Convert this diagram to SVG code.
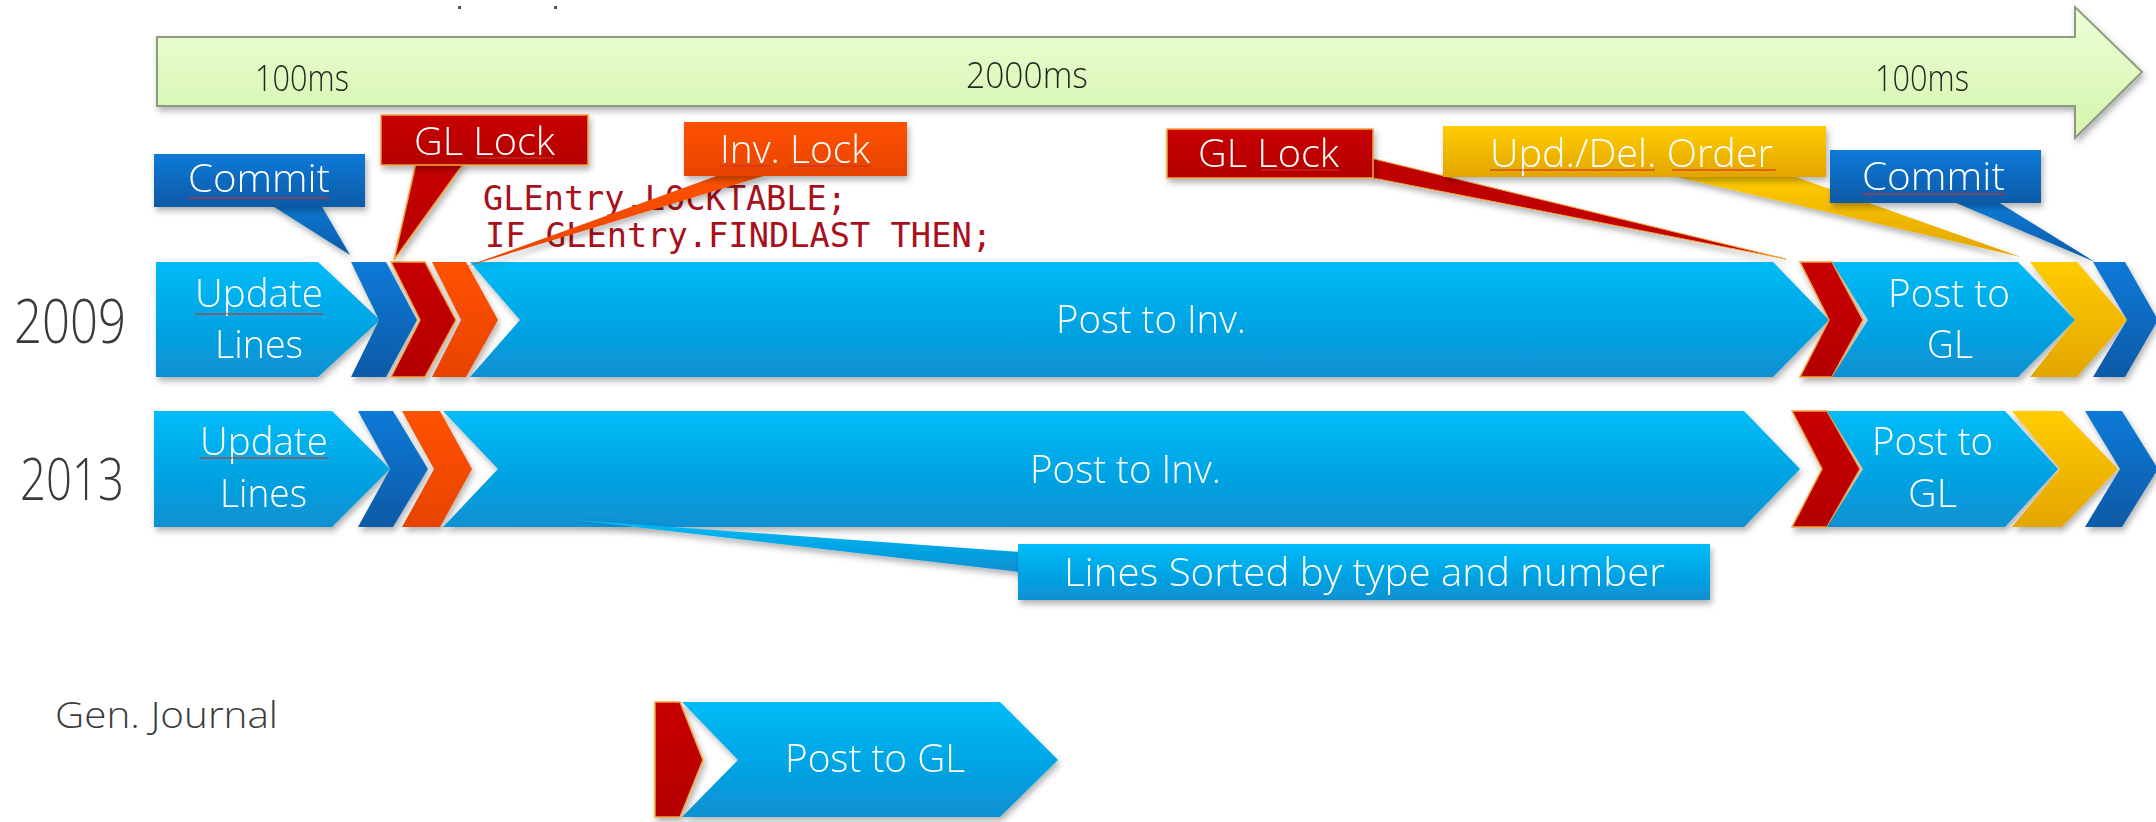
<svg xmlns="http://www.w3.org/2000/svg" width="2156" height="822" viewBox="0 0 2156 822">
<defs>
<linearGradient id="gBlue" x1="0" y1="0" x2="0" y2="1"><stop offset="0" stop-color="#02bcf8"/><stop offset="1" stop-color="#0890d2"/></linearGradient>
<linearGradient id="gDark" x1="0" y1="0" x2="0" y2="1"><stop offset="0" stop-color="#0a7ad8"/><stop offset="1" stop-color="#0a5aa6"/></linearGradient>
<linearGradient id="gRed" x1="0" y1="0" x2="0" y2="1"><stop offset="0" stop-color="#c80000"/><stop offset="1" stop-color="#b40000"/></linearGradient>
<linearGradient id="gOrange" x1="0" y1="0" x2="0" y2="1"><stop offset="0" stop-color="#ff5200"/><stop offset="1" stop-color="#e84300"/></linearGradient>
<linearGradient id="gGold" x1="0" y1="0" x2="0" y2="1"><stop offset="0" stop-color="#ffcc00"/><stop offset="1" stop-color="#e3a500"/></linearGradient>
<linearGradient id="gGreen" x1="0" y1="0" x2="0" y2="1"><stop offset="0" stop-color="#ecffd6"/><stop offset="1" stop-color="#d4f4ad"/></linearGradient>
<filter id="sh" x="-10%" y="-20%" width="120%" height="150%"><feDropShadow dx="2" dy="4" stdDeviation="3" flood-color="#000" flood-opacity="0.3"/></filter>
<pattern id="wavy" width="6" height="4" patternUnits="userSpaceOnUse"><path d="M0,3 L1.5,1 L3,3 L4.5,1 L6,3" fill="none" stroke="#c8302a" stroke-width="1"/></pattern>
<style>
.t{font-family:"Open Sans","Noto Sans","Liberation Sans",sans-serif;font-weight:300;fill:#fff;font-size:39px}
.d{font-family:"Open Sans","Noto Sans","Liberation Sans",sans-serif;font-weight:300;fill:#1e2a1e;font-size:37px}
.g{font-family:"Open Sans","Noto Sans","Liberation Sans",sans-serif;font-weight:300;fill:#3a3a3a}
.code{font-family:"DejaVu Sans Mono","Liberation Mono",monospace;font-size:33px;fill:#a8101c}
.blue{fill:url(#gBlue)}
.dark{fill:url(#gDark)}
.red{fill:url(#gRed);stroke:#f2a33a;stroke-width:1.5}
.orange{fill:url(#gOrange)}
.gold{fill:url(#gGold)}
.sq{fill:url(#wavy)}
</style>
</defs>
<rect width="2156" height="822" fill="#fff"/>
<rect x="458" y="6" width="3" height="3" fill="#555"/>
<rect x="554" y="6" width="3" height="3" fill="#555"/>

<g id="timeline" filter="url(#sh)">
<polygon points="157,37 2075,37 2075,7 2142,72 2075,138 2075,106 157,106" fill="url(#gGreen)" stroke="#8c9c80" stroke-width="2"/>
<text class="d" x="255" y="91" textLength="94" lengthAdjust="spacingAndGlyphs">100ms</text>
<text class="d" x="966" y="88" textLength="122" lengthAdjust="spacingAndGlyphs">2000ms</text>
<text class="d" x="1875" y="91" textLength="94" lengthAdjust="spacingAndGlyphs">100ms</text>
</g>

<g id="label-2009"><text class="g" x="14" y="343" font-size="60" textLength="112" lengthAdjust="spacingAndGlyphs">2009</text></g>
<g id="label-2013"><text class="g" x="20" y="500" font-size="58" textLength="104" lengthAdjust="spacingAndGlyphs">2013</text></g>
<g id="label-genjournal"><text class="g" x="55" y="728" font-size="37" textLength="223" lengthAdjust="spacingAndGlyphs">Gen. Journal</text></g>

<g id="row2009" filter="url(#sh)">
<g id="r2009-update"><polygon class="blue" points="156,262 318,262 380,320 318,377 156,377"/>
<text class="t" x="195" y="307" textLength="128" lengthAdjust="spacingAndGlyphs">Update</text>
<rect class="sq" x="195" y="312" width="128" height="4"/>
<text class="t" x="215" y="358" textLength="88" lengthAdjust="spacingAndGlyphs">Lines</text></g>
<polygon id="r2009-commit1" class="dark" points="351,262 386,262 417,320 386,377 351,377 379,320"/>
<polygon id="r2009-gllock1" class="red" points="391,262 425,262 456,320 425,377 391,377 420,320"/>
<polygon id="r2009-invlock" class="orange" points="432,262 466,262 498,320 466,377 432,377 461,320"/>
<g id="r2009-postinv"><polygon class="blue" points="470,262 1773,262 1829,320 1773,377 470,377 520,320"/>
<text class="t" x="1056" y="333" textLength="190" lengthAdjust="spacingAndGlyphs">Post to Inv.</text></g>
<polygon id="r2009-gllock2" class="red" points="1800,262 1832,262 1863,320 1832,377 1800,377 1829,320"/>
<g id="r2009-postgl"><polygon class="blue" points="1832,262 2018,262 2075,320 2018,377 1832,377 1868,320"/>
<text class="t" x="1888" y="307" textLength="122" lengthAdjust="spacingAndGlyphs">Post to</text>
<text class="t" x="1927" y="358" textLength="46" lengthAdjust="spacingAndGlyphs">GL</text></g>
<polygon id="r2009-updorder" class="gold" points="2030,262 2077,262 2127,320 2077,377 2030,377 2075,320"/>
<polygon id="r2009-commit2" class="dark" points="2093,262 2125,262 2158,320 2125,377 2093,377 2127,320"/>
</g>

<g id="row2013" filter="url(#sh)">
<g id="r2013-update"><polygon class="blue" points="154,411 332,411 390,469 332,527 154,527"/>
<text class="t" x="200" y="455" textLength="128" lengthAdjust="spacingAndGlyphs">Update</text>
<rect class="sq" x="200" y="456" width="128" height="4"/>
<text class="t" x="220" y="507" textLength="87" lengthAdjust="spacingAndGlyphs">Lines</text></g>
<polygon id="r2013-commit1" class="dark" points="358,411 393,411 428,469 393,527 358,527 390,469"/>
<polygon id="r2013-invlock" class="orange" points="402,411 440,411 472,469 440,527 402,527 434,469"/>
<g id="r2013-postinv"><polygon class="blue" points="443,411 1744,411 1800,469 1744,527 443,527 498,469"/>
<text class="t" x="1030" y="483" textLength="191" lengthAdjust="spacingAndGlyphs">Post to Inv.</text></g>
<polygon id="r2013-gllock" class="red" points="1792,411 1827,411 1860,469 1827,527 1792,527 1822,469"/>
<g id="r2013-postgl"><polygon class="blue" points="1827,411 2005,411 2058,469 2005,527 1827,527 1863,469"/>
<text class="t" x="1872" y="455" textLength="121" lengthAdjust="spacingAndGlyphs">Post to</text>
<text class="t" x="1908" y="507" textLength="49" lengthAdjust="spacingAndGlyphs">GL</text></g>
<polygon id="r2013-updorder" class="gold" points="2012,411 2062,411 2118,469 2062,527 2012,527 2060,469"/>
<polygon id="r2013-commit2" class="dark" points="2085,411 2122,411 2158,469 2122,527 2085,527 2120,469"/>
</g>

<g id="genjournal" filter="url(#sh)">
<polygon id="gj-gllock" class="red" points="655,702 680,702 703,760 680,817 655,817"/>
<g id="gj-postgl"><polygon class="blue" points="682,702 1000,702 1058,760 1000,817 682,817 738,760"/>
<text class="t" x="785" y="772" textLength="180" lengthAdjust="spacingAndGlyphs">Post to GL</text></g>
</g>

<g id="code">
<text class="code" x="483" y="210" textLength="364" lengthAdjust="spacingAndGlyphs">GLEntry.LOCKTABLE;</text>
<text class="code" x="485" y="247" textLength="507" lengthAdjust="spacingAndGlyphs">IF GLEntry.FINDLAST THEN;</text>
</g>

<g id="connectors" filter="url(#sh)">
<polygon class="dark" points="271,205 321,205 350,255"/>
<polygon class="red" points="416,163 464,163 394,260"/>
<polygon class="orange" points="722,174 770,174 462,268"/>
<polygon fill="#c00000" stroke="#f2a33a" stroke-width="1" points="1370,158 1373,178 1786,259"/>
<polygon class="gold" points="1668,175 1790,175 2021,257"/>
<polygon class="dark" points="1954,202 1998,202 2095,262"/>
<polygon class="blue" points="575,520 1020,552 1020,572"/>
</g>

<g id="callout-commit1" filter="url(#sh)">
<rect x="154" y="154" width="211" height="53" class="dark"/>
<text class="t" x="188" y="192" textLength="142" lengthAdjust="spacingAndGlyphs">Commit</text>
<rect class="sq" x="188" y="196" width="142" height="4"/>
</g>
<g id="callout-gllock1" filter="url(#sh)">
<rect x="381" y="115" width="207" height="50" class="red"/>
<text class="t" x="414" y="155" textLength="141" lengthAdjust="spacingAndGlyphs">GL Lock</text>
<rect class="sq" x="475" y="156" width="79" height="4"/>
</g>
<g id="callout-invlock" filter="url(#sh)">
<rect x="684" y="122" width="223" height="54" class="orange"/>
<text class="t" x="720" y="163" textLength="150" lengthAdjust="spacingAndGlyphs">Inv. Lock</text>
<rect class="sq" x="720" y="164" width="51" height="4"/>
<rect class="sq" x="789" y="164" width="81" height="4"/>
</g>
<g id="callout-gllock2" filter="url(#sh)">
<rect x="1167" y="129" width="206" height="49" class="red"/>
<text class="t" x="1198" y="167" textLength="141" lengthAdjust="spacingAndGlyphs">GL Lock</text>
<rect class="sq" x="1261" y="168" width="78" height="4"/>
</g>
<g id="callout-updorder" filter="url(#sh)">
<rect x="1443" y="126" width="383" height="51" class="gold"/>
<text class="t" x="1490" y="167" textLength="283" lengthAdjust="spacingAndGlyphs">Upd./Del. Order</text>
<rect class="sq" x="1490" y="168" width="165" height="4"/>
<rect class="sq" x="1672" y="168" width="104" height="4"/>
</g>
<g id="callout-commit2" filter="url(#sh)">
<rect x="1830" y="150" width="211" height="53" class="dark"/>
<text class="t" x="1862" y="190" textLength="143" lengthAdjust="spacingAndGlyphs">Commit</text>
<rect class="sq" x="1862" y="192" width="143" height="4"/>
</g>
<g id="callout-sorted" filter="url(#sh)">
<rect x="1018" y="544" width="692" height="56" class="blue"/>
<text class="t" x="1064" y="586" textLength="601" lengthAdjust="spacingAndGlyphs">Lines Sorted by type and number</text>
</g>
</svg>
